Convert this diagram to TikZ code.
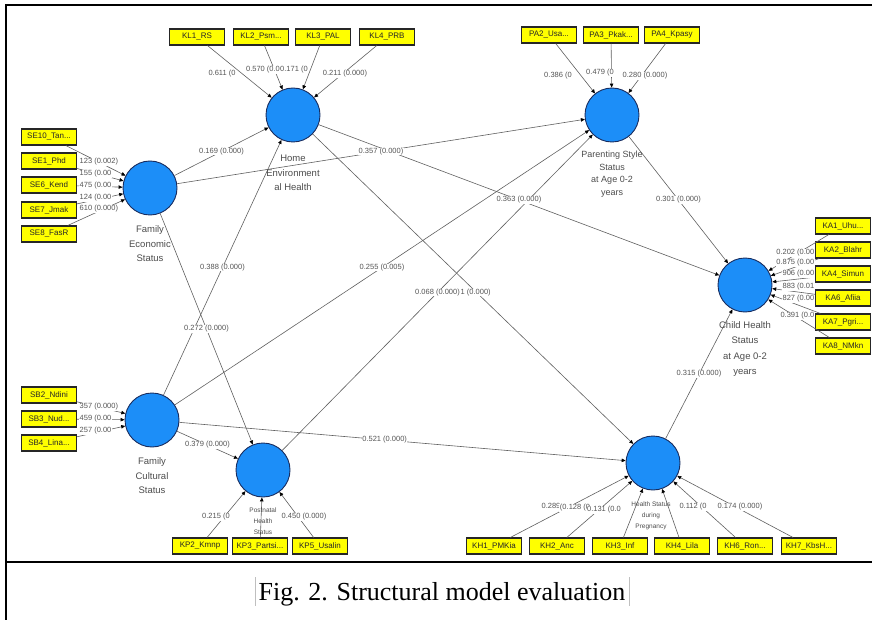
\documentclass[tikz,border=0pt]{standalone}
\usepackage{fontspec}
\setmainfont{Liberation Serif}
\newfontfamily\plsfont{Liberation Sans}
\usetikzlibrary{arrows.meta}
\definecolor{lvblue}{RGB}{28,142,248}
\definecolor{lvedge}{RGB}{25,45,95}
\definecolor{mvyel}{RGB}{255,255,0}
\definecolor{labgrey}{RGB}{85,85,85}
\definecolor{linegrey}{RGB}{95,95,95}
\begin{document}
\begin{tikzpicture}[x=1pt,y=-1pt,
 lv/.style={circle,minimum size=54pt,inner sep=0pt,fill=lvblue,draw=lvedge,line width=0.9pt},
 mv/.style={rectangle,minimum width=55pt,minimum height=16pt,inner sep=0pt,fill=mvyel,draw=black!85,line width=1.1pt,font=\plsfont\fontsize{8}{9}\selectfont,text=black!85},
 coef/.style={fill=white,inner sep=0.5pt,font=\plsfont\fontsize{7.5}{8}\selectfont,text=labgrey},
 lvlab/.style={align=center,font=\plsfont\fontsize{9.5}{14.5}\selectfont,text=black!70},
 smlab/.style={align=center,font=\plsfont\fontsize{6.5}{11}\selectfont,text=black!70},
 conn/.style={draw=linegrey,line width=0.6pt,-{Triangle[length=4pt,width=3.5pt,color=black]}},
]
\useasboundingbox (0,0) rectangle (872,620);
% frame
\draw[line width=2pt] (6,620) -- (6,5) -- (872,5);
\draw[line width=2pt] (6,562) -- (872,562);
\draw[black!25,line width=0.5pt] (255,577) -- (255,606);
\draw[black!25,line width=0.5pt] (629,577) -- (629,606);
\node[font=\fontsize{26}{30}\selectfont,anchor=base] (caption) at (442,600) {Fig. 2. Structural model evaluation};

% latent variables
\node[lv] (HE) at (293,115) {};
\node[lv] (FE) at (150,188) {};
\node[lv] (PS) at (612,115) {};
\node[lv] (CH) at (745,285) {};
\node[lv] (FC) at (152,420) {};
\node[lv] (PH) at (263,470) {};
\node[lv] (HP) at (653,463) {};

% indicators
\node[mv] (KL1) at (197,37) {KL1\_RS};
\node[mv] (KL2) at (261,37) {KL2\_Psm...};
\node[mv] (KL3) at (323,37) {KL3\_PAL};
\node[mv] (KL4) at (387,37) {KL4\_PRB};
\node[mv] (PA2) at (549,35) {PA2\_Usa...};
\node[mv] (PA3) at (611,35) {PA3\_Pkak...};
\node[mv] (PA4) at (672,35) {PA4\_Kpasy};
\node[mv] (SE10) at (49,137) {SE10\_Tan...};
\node[mv] (SE1) at (49,161) {SE1\_Phd};
\node[mv] (SE6) at (49,185) {SE6\_Kend};
\node[mv] (SE7) at (49,210) {SE7\_Jmak};
\node[mv] (SE8) at (49,234) {SE8\_FasR};
\node[mv] (KA1) at (843,226) {KA1\_Uhu...};
\node[mv] (KA2) at (843,250) {KA2\_Blahr};
\node[mv] (KA4) at (843,274) {KA4\_Simun};
\node[mv] (KA6) at (843,298) {KA6\_Afiia};
\node[mv] (KA7) at (843,322) {KA7\_Pgri...};
\node[mv] (KA8) at (843,346) {KA8\_NMkn};
\node[mv] (SB2) at (49,395) {SB2\_Ndini};
\node[mv] (SB3) at (49,419) {SB3\_Nud...};
\node[mv] (SB4) at (49,443) {SB4\_Lina...};
\node[mv] (KP2) at (200,546) {KP2\_Kmnp};
\node[mv] (KP3) at (260,546) {KP3\_Partsi...};
\node[mv] (KP5) at (320,546) {KP5\_Usalin};
\node[mv] (KH1) at (494,546) {KH1\_PMKia};
\node[mv] (KH2) at (557,546) {KH2\_Anc};
\node[mv] (KH3) at (620,546) {KH3\_Inf};
\node[mv] (KH4) at (682,546) {KH4\_Lila};
\node[mv] (KH6) at (745,546) {KH6\_Ron...};
\node[mv] (KH7) at (809,546) {KH7\_KbsH...};

% outer connectors
\foreach \i in {KL1,KL2,KL3,KL4} \draw[conn] (\i) -- (HE);
\foreach \i in {PA2,PA3,PA4} \draw[conn] (\i) -- (PS);
\foreach \i in {SE10,SE1,SE6,SE7,SE8} \draw[conn] (\i) -- (FE);
\foreach \i in {KA1,KA2,KA4,KA6,KA7,KA8} \draw[conn] (\i) -- (CH);
\foreach \i in {SB2,SB3,SB4} \draw[conn] (\i) -- (FC);
\foreach \i in {KP2,KP3,KP5} \draw[conn] (\i) -- (PH);
\foreach \i in {KH1,KH2,KH3,KH4,KH6,KH7} \draw[conn] (\i) -- (HP);

% structural connectors
\draw[conn] (FE) -- (HE);
\draw[conn] (FE) -- (PS);
\draw[conn] (HE) -- (CH);
\draw[conn] (PS) -- (CH);
\draw[conn] (FC) -- (HE);
\draw[conn] (FC) -- (PS);
\draw[conn] (FE) -- (PH);
\draw[conn] (HE) -- (HP);
\draw[conn] (PH) -- (PS);
\draw[conn] (FC) -- (HP);
\draw[conn] (FC) -- (PH);
\draw[conn] (HP) -- (CH);

% structural labels
\path (FE) -- node[coef] (s1) {0.169 (0.000)} (HE);
\path (FE) -- node[coef] (s2) {0.357 (0.000)} (PS);
\path (HE) -- node[coef] (s3) {0.363 (0.000)} (CH);
\path (PS) -- node[coef] (s4) {0.301 (0.000)} (CH);
\path (FC) -- node[coef] (s5) {0.388 (0.000)} (HE);
\path (FC) -- node[coef] (s6) {0.255 (0.005)} (PS);
\path (FE) -- node[coef] (s7) {0.272 (0.000)} (PH);
\path (PH) -- node[coef] (s8) {0.068 (0.000)} (PS);
\node[coef,anchor=west,inner xsep=0pt] (s9) at (s8.east) {1 (0.000)};
\path (FC) -- node[coef,pos=0.46] (s10) {0.521 (0.000)} (HP);
\path (FC) -- node[coef] (s11) {0.379 (0.000)} (PH);
\path (HP) -- node[coef] (s12) {0.315 (0.000)} (CH);

% outer loading labels
\node[coef] (o1) at (222,74) {0.611 (0};
\node[coef] (o2) at (263,70) {0.570 (0.0};
\node[coef] (o3) at (294,70) {0.171 (0};
\node[coef] (o4) at (345,74) {0.211 (0.000)};
\node[coef] (o5) at (558,76) {0.386 (0};
\node[coef] (o6) at (600,73) {0.479 (0};
\node[coef] (o7) at (645,76) {0.280 (0.000)};
\node[coef,anchor=west] (o8) at (79,162) {123 (0.002)};
\node[coef,anchor=west] (o9) at (79,174) {155 (0.00};
\node[coef,anchor=west] (o10) at (79,186) {475 (0.00};
\node[coef,anchor=west] (o11) at (79,198) {124 (0.00};
\node[coef,anchor=west] (o12) at (79,209) {610 (0.000)};
\node[coef,anchor=east] (o13) at (815,253) {0.202 (0.00};
\node[coef,anchor=east] (o14) at (815,263) {0.875 (0.00};
\node[coef,anchor=east] (o15) at (815,274) {906 (0.00};
\node[coef,anchor=east] (o16) at (815,287) {883 (0.01};
\node[coef,anchor=east] (o17) at (815,299) {827 (0.00};
\node[coef,anchor=east] (o18) at (815,316) {0.391 (0.0};
\node[coef,anchor=west] (o19) at (79,407) {357 (0.000)};
\node[coef,anchor=west] (o20) at (79,419) {459 (0.00};
\node[coef,anchor=west] (o21) at (79,431) {257 (0.00};
\node[coef] (o22) at (216,517) {0.215 (0};
\node[coef] (o23) at (304,517) {0.450 (0.000)};
\node[coef] (o24) at (551,506) {0.289};
\node[coef] (o25) at (575,508) {(0.128 (0};
\node[coef] (o26) at (604,510) {0.131 (0.0};
\node[coef] (o27) at (693,507) {0.112 (0};
\node[coef] (o28) at (740,507) {0.174 (0.000)};

% latent variable captions
\node[lvlab] (HEt) at (293,173) {Home\\Environment\\al Health};
\node[lvlab] (FEt) at (150,244) {Family\\Economic\\Status};
\node[lvlab,font=\plsfont\fontsize{9}{12.5}\selectfont] (PSt) at (612,174) {Parenting Style\\Status\\at Age 0-2\\years};
\node[lvlab,font=\plsfont\fontsize{9.5}{15.5}\selectfont] (CHt) at (745,349) {Child Health\\Status\\at Age 0-2\\years};
\node[lvlab] (FCt) at (152,476) {Family\\Cultural\\Status};
\node[smlab] (PHt) at (263,521) {Postnatal\\Health\\Status};
\node[smlab] (HPt) at (651,516) {Health Status\\during\\Pregnancy};
\end{tikzpicture}
\end{document}
